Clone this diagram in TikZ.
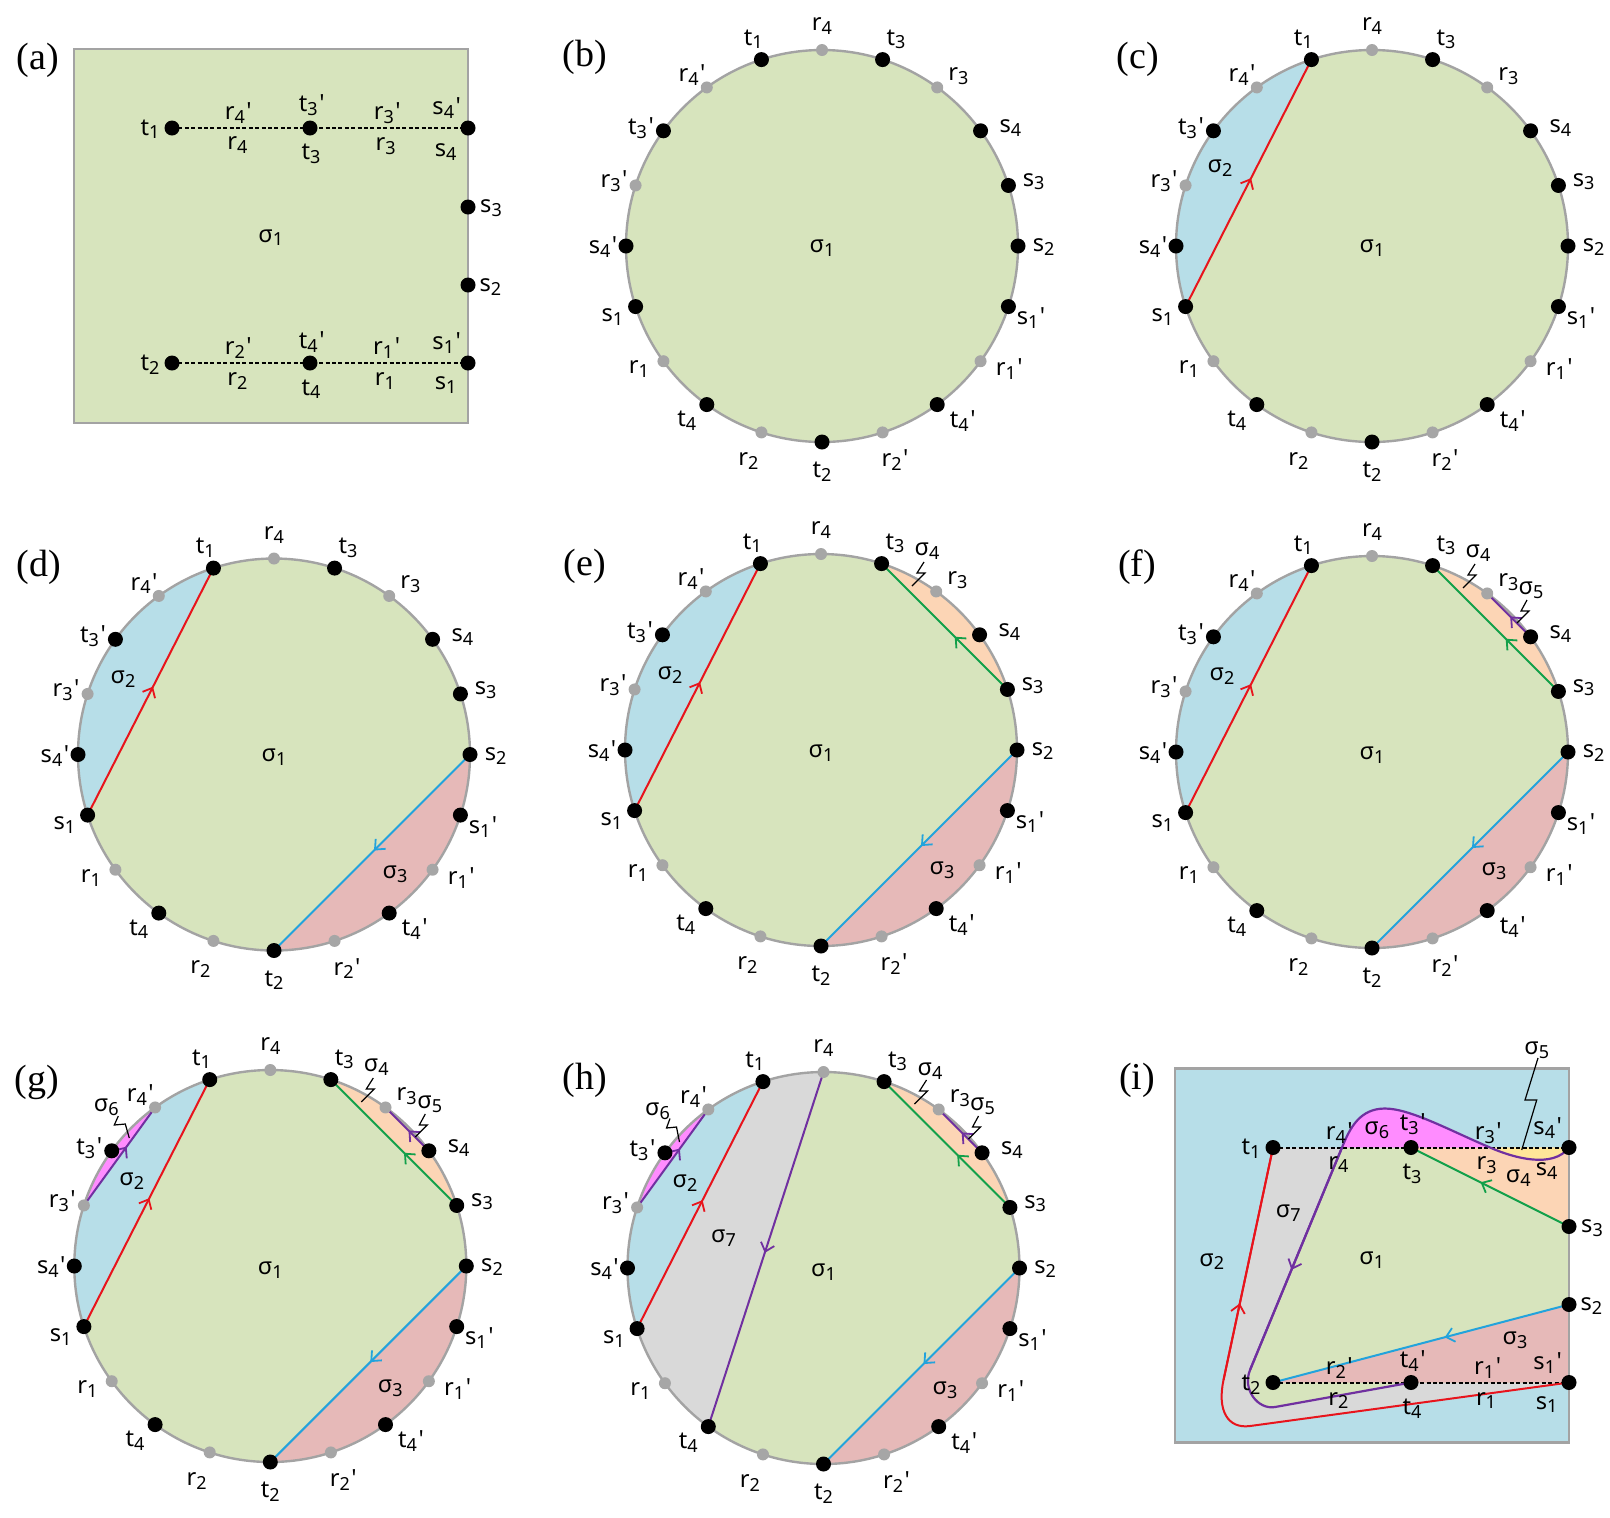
\documentclass[tikz,border=0pt]{standalone}
\usepackage{fontspec}
\setmainfont{Noto Sans}[Ligatures=TeXOff]
\newfontfamily\seriffont{Liberation Serif}
\usetikzlibrary{arrows.meta,decorations.markings}

\definecolor{cgreen}{HTML}{D7E4BD}
\definecolor{cblue}{HTML}{B7DEE8}
\definecolor{crose}{HTML}{E6B9B8}
\definecolor{cpeach}{HTML}{FCD5B5}
\definecolor{cmag}{HTML}{FF8CFF}
\definecolor{cgray}{HTML}{D9D9D9}
\definecolor{cyel}{HTML}{FFE699}
\definecolor{lred}{HTML}{E8141C}
\definecolor{lblue}{HTML}{22A3DC}
\definecolor{lgreen}{HTML}{13A04A}
\definecolor{lpurple}{HTML}{7030A0}
\definecolor{cout}{HTML}{A3A3A3}
\definecolor{dotgray}{HTML}{A6A6A6}

\newcommand\subsz{\fontsize{9}{9}\selectfont}
\newcommand\lsub[2]{#1\raisebox{-0.3ex}{\subsz #2}}
\newcommand\lsubp[2]{#1\raisebox{-0.3ex}{\subsz #2}\kern0.8pt'}

\tikzset{
 lbl/.style={font=\fontsize{11.8}{13}\selectfont, inner sep=0pt},
 plbl/.style={font=\seriffont\fontsize{19}{21}\selectfont, inner sep=0pt},
 bdot/.style={circle, fill=black, minimum size=7.5pt, inner sep=0pt},
 gdot/.style={circle, fill=dotgray, minimum size=6pt, inner sep=0pt},
 outl/.style={draw=cout, line width=1.2pt},
 chord/.style={line width=1pt},
 midarrow/.style={postaction={decorate}, decoration={markings, mark=at position #1 with {\arrow{Straight Barb[length=4pt,width=7pt,line width=0.9pt]}}}},
 midarrow/.default=0.5,
 leader/.style={draw=black, line width=0.6pt},
 dashedln/.style={draw=black, line width=1pt, dash pattern=on 2pt off 1.2pt},
}

% circle panel helpers
\newcommand\cpoints{%
 \foreach \n/\a in {r4/90,t1/108,r4p/126,t3p/144,r3p/162,s4p/180,s1/198,r1/216,t4/234,r2/252,t2/270,r2p/288,t4p/306,r1p/324,s1p/342,s2/0,s3/18,s4/36,r3/54,t3/72}
  {\coordinate (\n) at ({196*cos(\a)},{-196*sin(\a)});}
 \fill[cgreen] (0,0) circle[radius=98pt];
}
\newcommand\seg[3]{%
 \begin{scope}
 \clip (0,0) circle[radius=98pt];
 \fill[#1] ({196*cos(#2)},{-196*sin(#2)}) -- ({420*cos(#2)},{-420*sin(#2)}) -- ({420*cos((#2+#3)/2)},{-420*sin((#2+#3)/2)}) -- ({420*cos(#3)},{-420*sin(#3)}) -- ({196*cos(#3)},{-196*sin(#3)}) -- cycle;
 \end{scope}}
\newcommand\circoutline{\draw[outl] (0,0) circle[radius=98pt];}
\def\clabels{r4/{\lsub{r}{4}}/0/-219.6, t1/{\lsub{t}{1}}/-68.7/-206.7, r4p/{\lsubp{r}{4}}/-130/-171, t3p/{\lsubp{t}{3}}/-181/-118, r3p/{\lsubp{r}{3}}/-208/-64.6, s4p/{\lsubp{s}{4}}/-219/1.3, s1/{\lsub{s}{1}}/-209.7/70.7, r1/{\lsub{r}{1}}/-183/123.3, t4/{\lsub{t}{4}}/-135.3/174.7, r2/{\lsub{r}{2}}/-73.7/214.7, t2/{\lsub{t}{2}}/0/225.7, r2p/{\lsubp{r}{2}}/73/214, t4p/{\lsubp{t}{4}}/140.7/174.7, r1p/{\lsubp{r}{1}}/187.3/123.3, s1p/{\lsubp{s}{1}}/209/72.3, s2/{\lsub{s}{2}}/221.7/1.3, s3/{\lsub{s}{3}}/211.7/-64.3, s4/{\lsub{s}{4}}/188.3/-117.7, r3/{\lsub{r}{3}}/136.3/-170, t3/{\lsub{t}{3}}/74/-206.7}
\newcommand\circmarks[1]{%
 \foreach \n in {r4,r4p,r3p,r1,r2,r2p,r1p,r3}{\node[gdot] (#1-\n) at (\n) {};}
 \foreach \n in {t1,t3p,s4p,s1,t4,t2,t4p,s1p,s2,s3,s4,t3}{\node[bdot] (#1-\n) at (\n) {};}
 \foreach \n/\tx/\x/\y in \clabels {\node[lbl] (#1-\n-l) at (\x,\y) {\tx};}
}
% zigzag leader: start, kink1, kink2, end
\newcommand\zz[8]{\draw[leader] (#1,#2) -- (#3,#4) -- (#5,#6) -- (#7,#8);}

% rectangle panel helpers
\newcommand\rpoints{%
 \coordinate (t1) at (98,79); \coordinate (t3) at (236,79); \coordinate (s4) at (394,79);
 \coordinate (s3) at (394,158); \coordinate (s2) at (394,236);
 \coordinate (t2) at (98,314); \coordinate (t4) at (236,314); \coordinate (s1) at (394,314);
}
\def\rlabels{t1/{\lsub{t}{1}}/76/80.3, r4p/{\lsubp{r}{4}}/164.3/64.3, r4/{\lsub{r}{4}}/163.3/96, t3p/{\lsubp{t}{3}}/237.7/56, t3/{\lsub{t}{3}}/237/105, r3p/{\lsubp{r}{3}}/313.3/64.3, r3/{\lsub{r}{3}}/311.7/97, s4p/{\lsubp{s}{4}}/372.7/59.3, s4/{\lsub{s}{4}}/371.7/102.7, s3/{\lsub{s}{3}}/417/159.3, s2/{\lsub{s}{2}}/416.3/237.7, t2/{\lsub{t}{2}}/76/316, r2p/{\lsubp{r}{2}}/164.3/299.3, r2/{\lsub{r}{2}}/163.3/332, t4p/{\lsubp{t}{4}}/237.7/292.7, t4/{\lsub{t}{4}}/237/340.3, r1p/{\lsubp{r}{1}}/312.7/299.3, r1/{\lsub{r}{1}}/311/332, s1p/{\lsubp{s}{1}}/372.7/294.3, s1/{\lsub{s}{1}}/371.7/336}
\newcommand\rmarks[1]{%
 \foreach \n in {t1,t3,s4,s3,s2,t2,t4,s1}{\node[bdot] (#1-\n) at (\n) {};}
 \foreach \n/\tx/\x/\y in \rlabels {\node[lbl] (#1-\n-l) at (\x,\y) {\tx};}
}

\begin{document}
\begin{tikzpicture}[x=0.5pt,y=-0.5pt]
\useasboundingbox (0,0) rectangle (1610,1517);

% panel labels
\node[plbl] (pa) at (38,60) {(a)};
\node[plbl] (pb) at (585,57) {(b)};
\node[plbl] (pc) at (1138,59) {(c)};
\node[plbl] (pd) at (39,567) {(d)};
\node[plbl] (pe) at (585,566) {(e)};
\node[plbl] (pf) at (1137,567) {(f)};
\node[plbl] (pg) at (37,1082) {(g)};
\node[plbl] (ph) at (585,1080) {(h)};
\node[plbl] (pi) at (1137,1080) {(i)};

% (a)
\begin{scope}[shift={(74,49)}]
 \rpoints
 \fill[cgreen] (0,0) rectangle (394,374);
 \draw[outl] (0,0) rectangle (394,374);
 \draw[dashedln] (t1) -- (s4);
 \draw[dashedln] (t2) -- (s1);
 \rmarks{a}
 \node[lbl] (a-sig1) at (196.7,188.7) {\lsub{σ}{1}};
\end{scope}

% (b)
\begin{scope}[shift={(822,246)}]
 \cpoints
 \circoutline
 \circmarks{b}
 \node[lbl] (b-sig1) at (0,2) {\lsub{σ}{1}};
\end{scope}

% (c)
\begin{scope}[shift={(1372,246)}]
 \cpoints
 \seg{cblue}{108}{198}
 \circoutline
 \draw[chord,lred,midarrow=0.52] (s1) -- (t1);
 \circmarks{c}
 \node[lbl] (c-sig1) at (0,2) {\lsub{σ}{1}};
 \node[lbl] (c-sig2) at (-152,-77.7) {\lsub{σ}{2}};
\end{scope}

% (d)
\begin{scope}[shift={(274,754.5)}]
 \cpoints
 \seg{cblue}{108}{198}
 \seg{crose}{-90}{0}
 \circoutline
 \draw[chord,lred,midarrow=0.52] (s1) -- (t1);
 \draw[chord,lblue,midarrow=0.49] (s2) -- (t2);
 \circmarks{d}
 \node[lbl] (d-sig1) at (0,3) {\lsub{σ}{1}};
 \node[lbl] (d-sig2) at (-151,-75) {\lsub{σ}{2}};
 \node[lbl] (d-sig3) at (121,120) {\lsub{σ}{3}};
\end{scope}

% (e)
\begin{scope}[shift={(821,750)}]
 \cpoints
 \seg{cblue}{108}{198}
 \seg{crose}{-90}{0}
 \seg{cpeach}{18}{72}
 \circoutline
 \draw[chord,lred,midarrow=0.52] (s1) -- (t1);
 \draw[chord,lblue,midarrow=0.49] (s2) -- (t2);
 \draw[chord,lgreen,midarrow=0.42] (s3) -- (t3);
 \circmarks{e}
 \node[lbl] (e-sig1) at (0,3) {\lsub{σ}{1}};
 \node[lbl] (e-sig2) at (-151,-75) {\lsub{σ}{2}};
 \node[lbl] (e-sig3) at (121,120) {\lsub{σ}{3}};
 \node[lbl] (e-sig4) at (106,-199) {\lsub{σ}{4}};
 \zz{103}{-188}{96}{-177}{104}{-177}{91}{-164}
\end{scope}

% (f)
\begin{scope}[shift={(1372,752)}]
 \cpoints
 \seg{cblue}{108}{198}
 \seg{crose}{-90}{0}
 \seg{cpeach}{18}{72}
 \seg{cyel}{36}{54}
 \circoutline
 \draw[chord,lred,midarrow=0.52] (s1) -- (t1);
 \draw[chord,lblue,midarrow=0.49] (s2) -- (t2);
 \draw[chord,lgreen,midarrow=0.42] (s3) -- (t3);
 \draw[chord,lpurple,midarrow=0.47] (s4) -- (r3);
 \circmarks{f}
 \node[lbl] (f-sig1) at (0,3) {\lsub{σ}{1}};
 \node[lbl] (f-sig2) at (-150,-76) {\lsub{σ}{2}};
 \node[lbl] (f-sig3) at (122,119) {\lsub{σ}{3}};
 \node[lbl] (f-sig4) at (106,-199) {\lsub{σ}{4}};
 \zz{103}{-188}{96}{-177}{104}{-177}{91}{-164}
 \node[lbl] (f-sig5) at (159,-162) {\lsub{σ}{5}};
 \zz{155}{-152}{149}{-141}{157}{-141}{145}{-129}
\end{scope}

% (g)
\begin{scope}[shift={(270.3,1266)}]
 \cpoints
 \seg{cblue}{108}{198}
 \seg{cmag}{126}{162}
 \seg{crose}{-90}{0}
 \seg{cpeach}{18}{72}
 \seg{cyel}{36}{54}
 \circoutline
 \draw[chord,lred,midarrow=0.52] (s1) -- (t1);
 \draw[chord,lblue,midarrow=0.49] (s2) -- (t2);
 \draw[chord,lgreen,midarrow=0.42] (s3) -- (t3);
 \draw[chord,lpurple,midarrow=0.47] (s4) -- (r3);
 \draw[chord,lpurple,midarrow=0.6] (r3p) -- (r4p);
 \circmarks{g}
 \node[lbl] (g-sig1) at (0,4) {\lsub{σ}{1}};
 \node[lbl] (g-sig2) at (-138.6,-84.5) {\lsub{σ}{2}};
 \node[lbl] (g-sig3) at (120,122) {\lsub{σ}{3}};
 \node[lbl] (g-sig4) at (106,-199) {\lsub{σ}{4}};
 \zz{103}{-188}{96}{-177}{104}{-177}{91}{-164}
 \node[lbl] (g-sig5) at (159.5,-162) {\lsub{σ}{5}};
 \zz{155}{-152}{149}{-141}{157}{-141}{145}{-129}
 \node[lbl] (g-sig6) at (-164,-159) {\lsub{σ}{6}};
 \zz{-152}{-150}{-156}{-141}{-145}{-142}{-141}{-128}
\end{scope}

% (h)
\begin{scope}[shift={(823.5,1268)}]
 \cpoints
 \seg{cgray}{90}{234}
 \seg{cblue}{108}{198}
 \seg{cmag}{126}{162}
 \seg{crose}{-90}{0}
 \seg{cpeach}{18}{72}
 \seg{cyel}{36}{54}
 \circoutline
 \draw[chord,lred,midarrow=0.52] (s1) -- (t1);
 \draw[chord,lblue,midarrow=0.49] (s2) -- (t2);
 \draw[chord,lgreen,midarrow=0.42] (s3) -- (t3);
 \draw[chord,lpurple,midarrow=0.47] (s4) -- (r3);
 \draw[chord,lpurple,midarrow=0.6] (r3p) -- (r4p);
 \draw[chord,lpurple,midarrow=0.51] (r4) -- (t4);
 \circmarks{h}
 \node[lbl] (h-sig1) at (0,4) {\lsub{σ}{1}};
 \node[lbl] (h-sig2) at (-138.5,-84.7) {\lsub{σ}{2}};
 \node[lbl] (h-sig3) at (121.5,122) {\lsub{σ}{3}};
 \node[lbl] (h-sig4) at (106.5,-197) {\lsub{σ}{4}};
 \zz{103}{-188}{96}{-177}{104}{-177}{91}{-164}
 \node[lbl] (h-sig5) at (159,-162) {\lsub{σ}{5}};
 \zz{155}{-152}{149}{-141}{157}{-141}{145}{-129}
 \node[lbl] (h-sig6) at (-166,-157) {\lsub{σ}{6}};
 \zz{-153.5}{-149.5}{-157}{-140}{-147}{-141}{-144}{-126}
 \node[lbl] (h-sig7) at (-100,-29.7) {\lsub{σ}{7}};
\end{scope}

% (i)
\begin{scope}[shift={(1175,1068.5)}]
 \rpoints
 \coordinate (r3x) at (315,79); \coordinate (r4x) at (167,79);
 \coordinate (L1) at (48.5,311.5); \coordinate (B1) at (75,357.5);
 \coordinate (pc1) at (75,301.5); \coordinate (pc2) at (100,338.5);
 \coordinate (pk) at (210,40);
 \fill[cblue] (0,0) rectangle (394,374);
 \fill[cgray] (t1) -- (L1) .. controls (42,342) and (52.6,360.5) .. (B1) -- (s1) -- (s4) -- cycle;
 \fill[cgreen] (r4x) -- (pc1) .. controls (67,321) and (83,341.5) .. (pc2) -- (t4) -- (s1) -- (s4) -- cycle;
 \fill[crose] (s2) -- (t2) -- (s1) -- cycle;
 \fill[cpeach] (t3) -- (s3) -- (s4) -- cycle;
 \fill[cyel] (s4) .. controls (378,100) and (340,90) .. (r3x) -- cycle;
 \fill[cmag] (r3x) .. controls (275,62) and (235,40) .. (pk) .. controls (185,40) and (175,59) .. (r4x) -- cycle;
 \draw[outl] (0,0) rectangle (394,374);
 \draw[dashedln] (t1) -- (s4);
 \draw[dashedln] (t2) -- (s1);
 \draw[chord,lred] (s1) -- (B1) .. controls (52.6,360.5) and (42,342) .. (L1) -- (t1);
 \draw[chord,lred,midarrow=0.33] (L1) -- (t1);
 \draw[chord,lpurple,line width=1.1pt] (s4) .. controls (378,100) and (340,90) .. (r3x) .. controls (275,62) and (235,40) .. (pk) .. controls (185,40) and (175,59) .. (r4x) -- (pc1) .. controls (67,321) and (83,341.5) .. (pc2) -- (t4);
 \draw[chord,lpurple,line width=1.1pt,midarrow=0.55] (r4x) -- (pc1);
 \draw[chord,lgreen,midarrow=0.56] (s3) -- (t3);
 \draw[chord,lblue,midarrow=0.42] (s2) -- (t2);
 \rmarks{i}
 \node[lbl] (i-sig1) at (196.7,191.5) {\lsub{σ}{1}};
 \node[lbl] (i-sig2) at (36.7,193.2) {\lsub{σ}{2}};
 \node[lbl] (i-sig3) at (340,271.5) {\lsub{σ}{3}};
 \node[lbl] (i-sig4) at (343.3,109.8) {\lsub{σ}{4}};
 \node[lbl] (i-sig5) at (361.7,-18.5) {\lsub{σ}{5}};
 \node[lbl] (i-sig6) at (201.7,61.5) {\lsub{σ}{6}};
 \node[lbl] (i-sig7) at (113.3,144.8) {\lsub{σ}{7}};
 \zz{363}{-10.5}{350}{31.5}{361.7}{31.5}{346.7}{81.5}
\end{scope}

\end{tikzpicture}
\end{document}
